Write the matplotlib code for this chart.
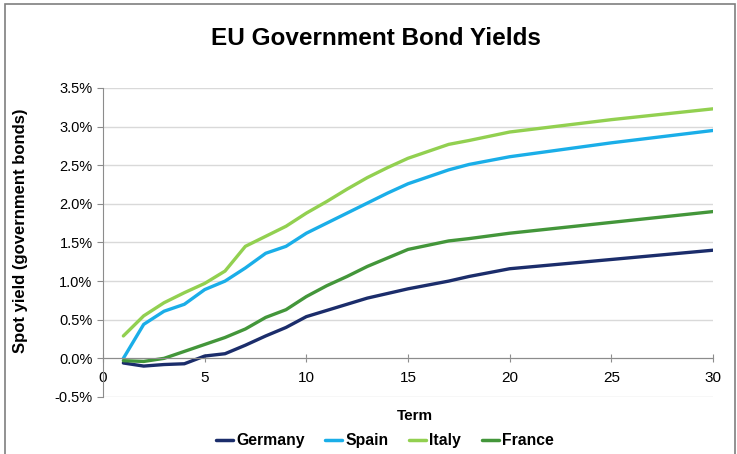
import matplotlib
matplotlib.use("Agg")
import matplotlib.pyplot as plt
from matplotlib.patches import Rectangle
from matplotlib.ticker import FuncFormatter, MultipleLocator

plt.rcParams['font.family'] = ['Liberation Sans', 'DejaVu Sans']

# ---------------------------------------------------------
# データ（グラフから読み取った値, %）
# ---------------------------------------------------------
TERM = [1, 2, 3, 4, 5, 6, 7, 8, 9, 10, 11, 12, 13, 14, 15, 17, 18, 20, 25, 30]

GERMANY = [-0.06, -0.10, -0.08, -0.07, 0.03, 0.06, 0.17, 0.29, 0.40, 0.54,
           0.62, 0.70, 0.78, 0.84, 0.90, 1.00, 1.06, 1.16, 1.28, 1.40]
SPAIN = [0.00, 0.44, 0.61, 0.70, 0.89, 1.00, 1.17, 1.36, 1.45, 1.62,
         1.75, 1.88, 2.01, 2.14, 2.26, 2.44, 2.51, 2.61, 2.79, 2.95]
ITALY = [0.29, 0.55, 0.72, 0.85, 0.97, 1.13, 1.45, 1.58, 1.71, 1.88,
         2.03, 2.19, 2.34, 2.47, 2.59, 2.77, 2.82, 2.93, 3.09, 3.23]
FRANCE = [-0.03, -0.04, 0.00, 0.09, 0.18, 0.27, 0.38, 0.53, 0.63, 0.80,
          0.94, 1.06, 1.19, 1.30, 1.41, 1.52, 1.55, 1.62, 1.76, 1.90]

SERIES = [
    ("Germany", GERMANY, "#1b2d6b"),
    ("Spain", SPAIN, "#1aaee8"),
    ("Italy", ITALY, "#92d050"),
    ("France", FRANCE, "#43963a"),
]


def main():
    fig = plt.figure(figsize=(7.37, 4.54), dpi=100)
    ax = fig.add_axes([0.1398, 0.1256, 0.8276, 0.6806])

    for name, vals, col in SERIES:
        ax.plot(TERM, vals, color=col, lw=2.4, label=name, solid_capstyle='round')

    ax.set_xlim(0, 30)
    ax.set_ylim(-0.5, 3.5)
    ax.xaxis.set_major_locator(MultipleLocator(5))
    ax.yaxis.set_major_locator(MultipleLocator(0.5))
    ax.yaxis.set_major_formatter(FuncFormatter(lambda v, p: f"{v:.1f}%"))

    ax.grid(axis='y', color='#d9d9d9', lw=1)
    ax.set_axisbelow(True)

    for s in ['top', 'right']:
        ax.spines[s].set_visible(False)
    ax.spines['bottom'].set_position(('data', 0))
    ax.spines['bottom'].set_color('#8c8c8c')
    ax.spines['left'].set_color('#8c8c8c')

    ax.tick_params(axis='x', direction='inout', length=6, color='#8c8c8c',
                   labelsize=11, pad=6)
    ax.tick_params(axis='y', direction='out', length=4, color='#8c8c8c',
                   labelsize=10.5)

    # ラベル・タイトル
    fig.text(0.028, 0.491, "Spot yield (government bonds)", rotation=90,
             ha='center', va='center', fontsize=12, fontweight='bold')
    fig.text(0.563, 0.083, "Term", ha='center', va='center', fontsize=11,
             fontweight='bold')
    fig.text(0.510, 0.916, "EU Government Bond Yields", ha='center', va='center',
             fontsize=17.5, fontweight='bold')

    leg = fig.legend(loc='center', bbox_to_anchor=(0.522, 0.029), ncol=4,
                     frameon=False, handlelength=1.1, handletextpad=0.2,
                     columnspacing=1.3, prop={'size': 11.3, 'weight': 'bold'})
    for line in leg.get_lines():
        line.set_linewidth(2.5)

    # 外枠
    fig.patches.append(Rectangle((5 / 737, -0.1), 730 / 737, 1 - 4 / 454 + 0.1,
                                 transform=fig.transFigure, fill=False,
                                 edgecolor='#7f7f7f', lw=1.2))

    fig.savefig("out.png", dpi=100)
    plt.close(fig)


if __name__ == "__main__":
    main()
